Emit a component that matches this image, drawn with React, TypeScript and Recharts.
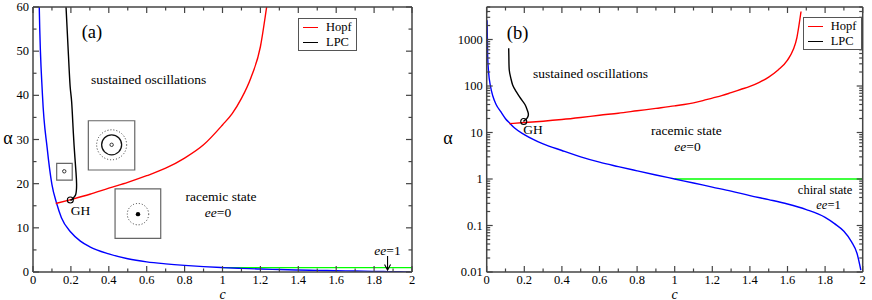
import React from 'react';
import { LineChart, Line, XAxis, YAxis, ReferenceDot, ReferenceArea } from 'recharts';

const FONT = '"Liberation Serif", "Times New Roman", serif';
const AXIS = '#444';

// ---- data ----
const blueC = [0.002, 0.005, 0.01, 0.02, 0.033, 0.05, 0.075, 0.1, 0.125, 0.15, 0.2, 0.25, 0.3, 0.4, 0.5, 0.6, 0.7, 0.8, 0.9, 1.0, 1.1, 1.2, 1.3, 1.4, 1.5, 1.6, 1.7, 1.8, 1.85, 1.9, 1.94, 1.97, 1.99];
const blueA = [2600, 450, 200, 100, 60, 40, 28, 19.8, 15.5, 12.3, 9, 7, 5.7, 4.1, 3.0, 2.3, 1.85, 1.5, 1.22, 1.0, 0.82, 0.67, 0.55, 0.44, 0.36, 0.29, 0.22, 0.15, 0.11, 0.075, 0.045, 0.025, 0.011];

// Hopf curve (linear axis)
const redLeftC = [0.12, 0.2, 0.3, 0.4, 0.5, 0.6, 0.7, 0.8, 0.9, 1.0, 1.05, 1.1, 1.15, 1.2, 1.233, 1.26];
const redLeftA = [15.5, 16.4, 17.6, 19.0, 20.3, 21.8, 23.5, 25.8, 28.8, 33.3, 35.8, 39.3, 44, 51, 60, 68];

// Hopf curve (log axis)
const redRightC = [0.12, 0.2, 0.3, 0.4, 0.5, 0.6, 0.7, 0.8, 0.9, 1.0, 1.05, 1.1, 1.15, 1.2, 1.25, 1.3, 1.35, 1.4, 1.45, 1.5, 1.55, 1.6, 1.63, 1.65, 1.66, 1.672];
const redRightA = [15.5, 16.4, 17.5, 19, 21, 23.5, 26, 29.3, 33, 37.3, 40, 43.5, 48.5, 55, 62, 72, 84, 98, 120, 155, 220, 360, 600, 1100, 1900, 4000];

const lpcLeftC = [0.172, 0.186, 0.196, 0.204, 0.213, 0.221, 0.227, 0.23, 0.229, 0.225, 0.216, 0.205, 0.197];
const lpcLeftA = [62, 50, 42, 38.5, 31.4, 26, 22.5, 20, 18.5, 17.5, 16.9, 16.4, 16.3];

const lpcRightC = [0.117, 0.118, 0.12, 0.128, 0.138, 0.155, 0.174, 0.19, 0.205, 0.215, 0.221, 0.221, 0.218, 0.21, 0.2, 0.197];
const lpcRightA = [650, 400, 221, 150, 105, 78, 59, 48, 39, 31, 26, 23, 21.4, 19.3, 18.1, 17.2];

const greenC = [1, 2];
const greenA = [1, 1];

const ghLeft = { c: 0.197, a: 16.3 };
const ghRight = { c: 0.197, a: 17.2 };

const xTicks = [0, 0.1, 0.2, 0.3, 0.4, 0.5, 0.6, 0.7, 0.8, 0.9, 1, 1.1, 1.2, 1.3, 1.4, 1.5, 1.6, 1.7, 1.8, 1.9, 2];
const yTicksLin = [0, 5, 10, 15, 20, 25, 30, 35, 40, 45, 50, 55, 60];
const yTicksLog = [
  0.01, 0.02, 0.03, 0.04, 0.05, 0.06, 0.07, 0.08, 0.09,
  0.1, 0.2, 0.3, 0.4, 0.5, 0.6, 0.7, 0.8, 0.9,
  1, 2, 3, 4, 5, 6, 7, 8, 9,
  10, 20, 30, 40, 50, 60, 70, 80, 90,
  100, 200, 300, 400, 500, 600, 700, 800, 900,
  1000, 2000, 3000, 4000, 5000,
];

const legendNames = ['Hopf', 'LPC'];
const legendColors = ['#ff0000', '#000000'];

const zip = (c: number[], a: number[]) => c.map((x, i) => ({ c: x, a: a[i] }));

const blueData = zip(blueC, blueA);
const redLeftData = zip(redLeftC, redLeftA);
const redRightData = zip(redRightC, redRightA);
const greenData = zip(greenC, greenA);
const lpcLeftData = zip(lpcLeftC, lpcLeftA);
const lpcRightData = zip(lpcRightC, lpcRightA);

// ---- tick helpers ----
const isMajorX = (v: number) => Math.abs(v * 5 - Math.round(v * 5)) < 1e-6;
const isMajorLin = (v: number) => Math.abs(v / 10 - Math.round(v / 10)) < 1e-6;
const isMajorLog = (v: number) => Math.abs(Math.log10(v) - Math.round(Math.log10(v))) < 1e-6;
const fmtX = (v: number) => (Number.isInteger(v) ? String(v) : v.toFixed(1));
const fmtY = (v: number) => String(v);

type Side = 'bottom' | 'top' | 'left' | 'right';
function makeTick(side: Side, isMajor: (v: number) => boolean, fmt: ((v: number) => string) | null) {
  return (props: any) => {
    const { x, y, payload } = props;
    const v = payload.value;
    const major = isMajor(v);
    const L = major ? 6 : 3.5;
    let line: any;
    if (side === 'bottom') line = <line x1={x} y1={y} x2={x} y2={y - L} stroke={AXIS} strokeWidth={1.2} />;
    else if (side === 'top') line = <line x1={x} y1={y} x2={x} y2={y + L} stroke={AXIS} strokeWidth={1.2} />;
    else if (side === 'left') line = <line x1={x} y1={y} x2={x + L} y2={y} stroke={AXIS} strokeWidth={1.2} />;
    else line = <line x1={x} y1={y} x2={x - L} y2={y} stroke={AXIS} strokeWidth={1.2} />;
    let label: any = null;
    if (fmt && major) {
      if (side === 'bottom') {
        label = (
          <text x={x} y={y + 11.5} textAnchor="middle" fontFamily={FONT} fontSize={12.5} fill="#000">
            {fmt(v)}
          </text>
        );
      } else if (side === 'left') {
        label = (
          <text x={x - 4} y={y} textAnchor="end" dominantBaseline="central" fontFamily={FONT} fontSize={12.5} fill="#000">
            {fmt(v)}
          </text>
        );
      }
    }
    return (
      <g>
        {line}
        {label}
      </g>
    );
  };
}

// ---- annotation shapes ----
const textShape = (content: React.ReactNode, size = 13.5) => (p: any) => (
  <text x={p.cx} y={p.cy} textAnchor="middle" dominantBaseline="central" fontFamily={FONT} fontSize={size} fill="#000">
    {content}
  </text>
);

const ee = (n: string) => (
  <>
    <tspan fontStyle="italic">ee</tspan>
    <tspan>={n}</tspan>
  </>
);

const arrowShape = (p: any) => (
  <g stroke="#000" strokeWidth={1.1} fill="none">
    <line x1={p.cx} y1={p.cy} x2={p.cx} y2={p.cy + 14} />
    <polyline points={`${p.cx - 3},${p.cy + 8.5} ${p.cx},${p.cy + 14} ${p.cx + 3},${p.cy + 8.5}`} />
  </g>
);

const LegendBox = ({ left, top }: { left: number; top: number }) => (
  <div
    style={{
      position: 'absolute',
      left,
      top,
      width: 57,
      height: 31,
      border: '1px solid #555',
      background: '#fff',
      fontFamily: FONT,
      fontSize: 12.5,
      lineHeight: '15px',
    }}
  >
    {legendNames.map((n, i) => (
      <div key={n} style={{ position: 'absolute', left: 4, top: 1 + i * 15, height: 15, display: 'flex', alignItems: 'center' }}>
        <div style={{ width: 15, height: 0, borderTop: `1.5px solid ${legendColors[i]}` }} />
        <span style={{ marginLeft: 8 }}>{n}</span>
      </div>
    ))}
  </div>
);

const axisLine = { stroke: AXIS, strokeWidth: 1.5 };

const alphaLabel = (dx: number) => ({
  content: (p: any) => (
    <text x={p.viewBox.x + dx} y={138} textAnchor="middle" dominantBaseline="central" fontFamily={FONT} fontSize={18} fill="#000">
      α
    </text>
  ),
});
const cLabel = {
  content: (p: any) => (
    <text x={p.viewBox.x + p.viewBox.width / 2} y={p.viewBox.y + 26.5} textAnchor="middle" fontFamily={FONT} fontSize={14} fontStyle="italic" fill="#000">
      c
    </text>
  ),
};

const SW = 1.4;

function PanelA() {
  return (
    <div style={{ position: 'absolute', left: 0, top: 0, width: 440, height: 300 }}>
      <LineChart width={440} height={300} margin={{ top: 0, right: 0, bottom: 0, left: 0 }}>
        <XAxis
          xAxisId={0}
          type="number"
          dataKey="c"
          domain={[0, 2]}
          ticks={xTicks}
          interval={0}
          height={28}
          tickSize={0}
          tickMargin={0}
          tickLine={false}
          axisLine={axisLine}
          tick={makeTick('bottom', isMajorX, fmtX)}
          allowDataOverflow
          label={cLabel}
        />
        <XAxis
          xAxisId="top"
          orientation="top"
          type="number"
          dataKey="c"
          domain={[0, 2]}
          ticks={xTicks}
          interval={0}
          height={7}
          tickSize={0}
          tickMargin={0}
          tickLine={false}
          axisLine={axisLine}
          tick={makeTick('top', isMajorX, null)}
          allowDataOverflow
        />
        <YAxis
          yAxisId={0}
          type="number"
          dataKey="a"
          domain={[0, 60]}
          ticks={yTicksLin}
          interval={0}
          width={33}
          tickSize={0}
          tickMargin={0}
          tickLine={false}
          axisLine={axisLine}
          tick={makeTick('left', isMajorLin, fmtY)}
          allowDataOverflow
          label={alphaLabel(8)}
        />
        <YAxis
          yAxisId="right"
          orientation="right"
          type="number"
          dataKey="a"
          domain={[0, 60]}
          ticks={yTicksLin}
          interval={0}
          width={28}
          tickSize={0}
          tickMargin={0}
          tickLine={false}
          axisLine={axisLine}
          tick={makeTick('right', isMajorLin, null)}
          allowDataOverflow
        />
        <Line data={greenData} dataKey="a" stroke="#00ff00" strokeWidth={SW} dot={false} activeDot={false} isAnimationActive={false} type="linear" />
        <Line data={blueData} dataKey="a" stroke="#0000ff" strokeWidth={SW} dot={false} activeDot={false} isAnimationActive={false} type="monotone" />
        <Line data={redLeftData} dataKey="a" stroke="#ff0000" strokeWidth={SW} dot={false} activeDot={false} isAnimationActive={false} type="monotone" />
        <Line data={lpcLeftData} dataKey="a" stroke="#000" strokeWidth={SW} dot={false} activeDot={false} isAnimationActive={false} type="natural" />

        <ReferenceArea x1={0.125} x2={0.207} y1={20.8} y2={24.6} fill="#fff" fillOpacity={0} stroke="#666" strokeWidth={1.2} />
        <ReferenceDot x={0.165} y={22.8} r={1.7} fill="none" stroke="#333" strokeWidth={1} />

        <ReferenceArea x1={0.292} x2={0.537} y1={23.1} y2={34.25} fill="#fff" fillOpacity={0} stroke="#666" strokeWidth={1.2} />
        <ReferenceDot x={0.415} y={28.8} r={15} fill="none" stroke="#333" strokeWidth={1} strokeDasharray="1 2" />
        <ReferenceDot x={0.415} y={28.8} r={10} fill="none" stroke="#111" strokeWidth={1.3} />
        <ReferenceDot x={0.415} y={28.8} r={1.7} fill="none" stroke="#333" strokeWidth={1} />

        <ReferenceArea x1={0.433} x2={0.674} y1={7.6} y2={18.8} fill="#fff" fillOpacity={0} stroke="#666" strokeWidth={1.2} />
        <ReferenceDot x={0.554} y={13.1} r={10.7} fill="none" stroke="#333" strokeWidth={1} strokeDasharray="1 2" />
        <ReferenceDot x={0.554} y={13.1} r={2.2} fill="#000" stroke="none" />

        <ReferenceDot x={ghLeft.c} y={ghLeft.a} r={3} fill="none" stroke="#000" strokeWidth={1.1} />

        <ReferenceDot x={0.311} y={54.3} r={0} shape={textShape('(a)', 18.5)} />
        <ReferenceDot x={0.61} y={43.5} r={0} shape={textShape('sustained oscillations')} />
        <ReferenceDot x={0.992} y={17.0} r={0} shape={textShape('racemic state')} />
        <ReferenceDot x={0.976} y={13.6} r={0} shape={textShape(ee('0'))} />
        <ReferenceDot x={0.251} y={13.9} r={0} shape={textShape('GH')} />
        <ReferenceDot x={1.871} y={5.0} r={0} shape={textShape(ee('1'))} />
        <ReferenceDot x={1.871} y={3.6} r={0} shape={arrowShape} />
      </LineChart>
      <LegendBox left={298} top={18} />
    </div>
  );
}

function PanelB() {
  return (
    <div style={{ position: 'absolute', left: 440, top: 0, width: 432, height: 300 }}>
      <LineChart width={432} height={300} margin={{ top: 0, right: 0, bottom: 0, left: 0 }}>
        <XAxis
          xAxisId={0}
          type="number"
          dataKey="c"
          domain={[0, 2]}
          ticks={xTicks}
          interval={0}
          height={28}
          tickSize={0}
          tickMargin={0}
          tickLine={false}
          axisLine={axisLine}
          tick={makeTick('bottom', isMajorX, fmtX)}
          allowDataOverflow
          label={cLabel}
        />
        <XAxis
          xAxisId="top"
          orientation="top"
          type="number"
          dataKey="c"
          domain={[0, 2]}
          ticks={xTicks}
          interval={0}
          height={7}
          tickSize={0}
          tickMargin={0}
          tickLine={false}
          axisLine={axisLine}
          tick={makeTick('top', isMajorX, null)}
          allowDataOverflow
        />
        <YAxis
          yAxisId={0}
          type="number"
          dataKey="a"
          scale="log"
          domain={[0.01, 5000]}
          ticks={yTicksLog}
          interval={0}
          width={46.7}
          tickSize={0}
          tickMargin={0}
          tickLine={false}
          axisLine={axisLine}
          tick={makeTick('left', isMajorLog, fmtY)}
          allowDataOverflow
          label={alphaLabel(8)}
        />
        <YAxis
          yAxisId="right"
          orientation="right"
          type="number"
          dataKey="a"
          scale="log"
          domain={[0.01, 5000]}
          ticks={yTicksLog}
          interval={0}
          width={9.3}
          tickSize={0}
          tickMargin={0}
          tickLine={false}
          axisLine={axisLine}
          tick={makeTick('right', isMajorLog, null)}
          allowDataOverflow
        />
        <Line data={greenData} dataKey="a" stroke="#00ff00" strokeWidth={SW} dot={false} activeDot={false} isAnimationActive={false} type="linear" />
        <Line data={blueData} dataKey="a" stroke="#0000ff" strokeWidth={SW} dot={false} activeDot={false} isAnimationActive={false} type="monotone" />
        <Line data={redRightData} dataKey="a" stroke="#ff0000" strokeWidth={SW} dot={false} activeDot={false} isAnimationActive={false} type="monotone" />
        <Line data={lpcRightData} dataKey="a" stroke="#000" strokeWidth={SW} dot={false} activeDot={false} isAnimationActive={false} type="natural" />

        <ReferenceDot x={ghRight.c} y={ghRight.a} r={3} fill="none" stroke="#000" strokeWidth={1.1} />

        <ReferenceDot x={0.164} y={1377} r={0} shape={textShape('(b)', 18.5)} />
        <ReferenceDot x={0.552} y={182} r={0} shape={textShape('sustained oscillations')} />
        <ReferenceDot x={0.246} y={11.4} r={0} shape={textShape('GH')} />
        <ReferenceDot x={1.062} y={10.9} r={0} shape={textShape('racemic state')} />
        <ReferenceDot x={1.068} y={5.0} r={0} shape={textShape(ee('0'))} />
        <ReferenceDot x={1.8} y={0.57} r={0} shape={textShape('chiral state', 12.5)} />
        <ReferenceDot x={1.818} y={0.272} r={0} shape={textShape(ee('1'), 12.5)} />
      </LineChart>
      <LegendBox left={362.7} top={17.3} />
    </div>
  );
}

export default function App() {
  return (
    <div style={{ position: 'absolute', left: 0, top: 0, width: 872, height: 300, background: '#fff', overflow: 'hidden' }}>
      <PanelA />
      <PanelB />
    </div>
  );
}
